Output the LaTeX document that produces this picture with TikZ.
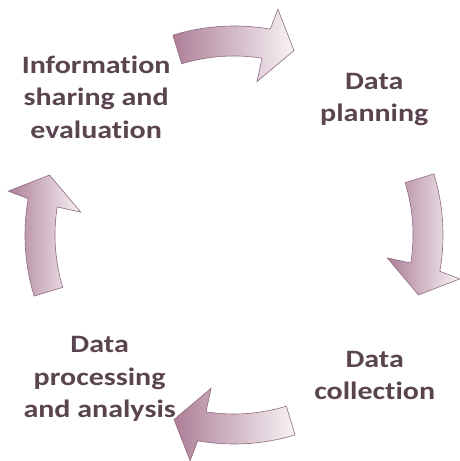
\documentclass[tikz,border=0pt]{standalone}
\usepackage{fontspec}
\setmainfont{Carlito}[Ligatures=NoCommon, FakeStretch=1.2]
\definecolor{mauve}{HTML}{AD7F97}
\definecolor{mauvelight}{HTML}{F8F3F6}
\definecolor{mauveline}{HTML}{8E6B80}
\definecolor{labeltext}{HTML}{5A4450}
\begin{document}
\begin{tikzpicture}[x=1pt,y=1pt,
    cyclearrow/.style={draw=mauveline, line width=0.6pt, line join=miter,
      left color=mauve, right color=mauvelight},
    steplabel/.style={align=center, text=labeltext,
      font=\bfseries\fontsize{25}{32.5}\selectfont}]
  \useasboundingbox (0,0) rectangle (459,461);
  \begin{scope}[shift={(234,226)}]
    % the four steps
    \node[steplabel] (plan) at (44:195) {Data\\planning};
    \node[steplabel] (collect) at (-45:199) {Data\\collection};
    \node[steplabel] (process) at (-133:197) {Data\\processing\\and analysis};
    \node[steplabel] (share) at (135:195) {Information\\sharing and\\evaluation};
    % arrows between them
    \draw[cyclearrow] (107:179) arc[start angle=107, end angle=81, radius=179]
      -- (81.5:155) -- (72:194) -- (79:230) -- (80:209)
      arc[start angle=80, end angle=107, radius=209] -- cycle;
    \draw[cyclearrow] (17:179) arc[start angle=17, end angle=-9, radius=179]
      -- (-8.5:155) -- (-18:194) -- (-11:230) -- (-10:209)
      arc[start angle=-10, end angle=17, radius=209] -- cycle;
    \draw[cyclearrow] (-73:179) arc[start angle=-73, end angle=-99, radius=179]
      -- (-98.5:155) -- (-108:194) -- (-101:230) -- (-100:209)
      arc[start angle=-100, end angle=-73, radius=209] -- cycle;
    \draw[cyclearrow] (197:179) arc[start angle=197, end angle=171, radius=179]
      -- (171.5:155) -- (162:194) -- (169:230) -- (170:209)
      arc[start angle=170, end angle=197, radius=209] -- cycle;
  \end{scope}
\end{tikzpicture}
\end{document}
